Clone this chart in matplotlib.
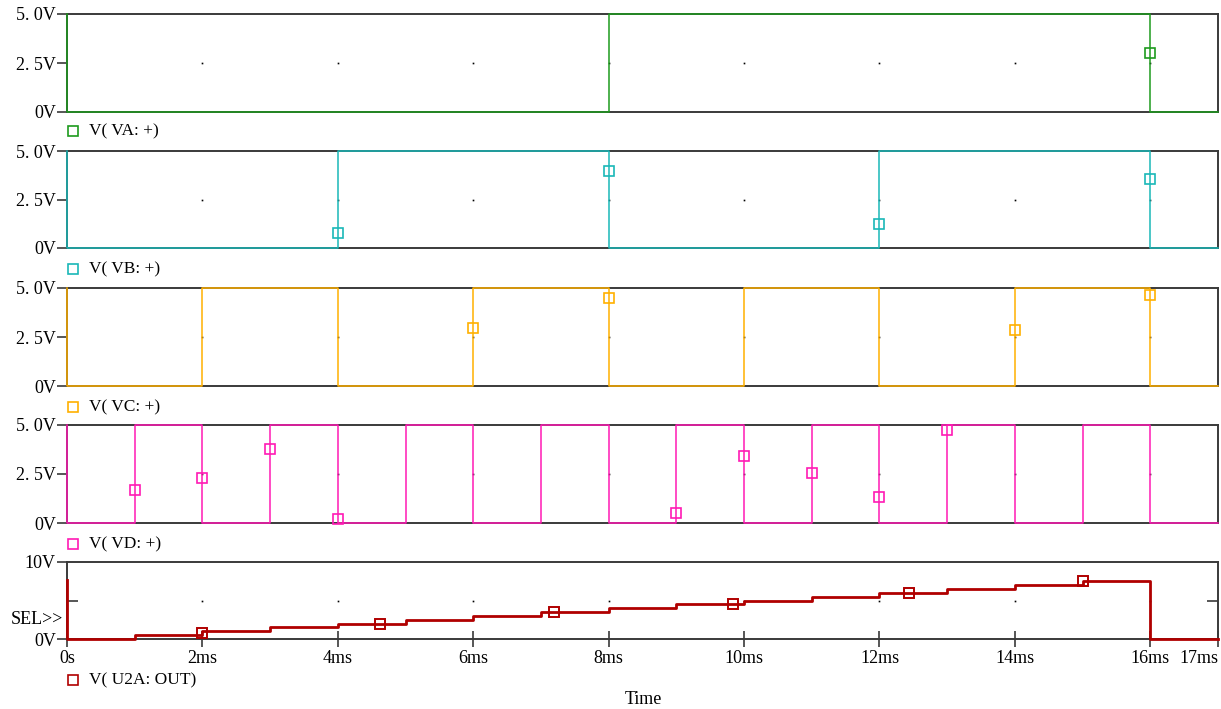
import matplotlib
matplotlib.use("Agg")
import matplotlib.pyplot as plt
from matplotlib.lines import Line2D

plt.rcParams['font.family'] = ['Liberation Serif', 'DejaVu Serif']

# time edges in ms (one counter step per ms)
t_ms = [0, 1, 2, 3, 4, 5, 6, 7, 8, 9, 10, 11, 12, 13, 14, 15, 16, 17]

# levels held over each 1 ms interval
va = [0, 0, 0, 0, 0, 0, 0, 0, 5, 5, 5, 5, 5, 5, 5, 5, 0]
vb = [0, 0, 0, 0, 5, 5, 5, 5, 0, 0, 0, 0, 5, 5, 5, 5, 0]
vc = [0, 0, 5, 5, 0, 0, 5, 5, 0, 0, 5, 5, 0, 0, 5, 5, 0]
vd = [0, 5, 0, 5, 0, 5, 0, 5, 0, 5, 0, 5, 0, 5, 0, 5, 0]
vout = [0, 0.5, 1.0, 1.5, 2.0, 2.5, 3.0, 3.5, 4.0, 4.5, 5.0, 5.5, 6.0, 6.5, 7.0, 7.5, 0]
start_spike = [5, 5, 5, 5, 7.6]

# trace marker positions (ms, V)
va_mk_t = [16]
va_mk_v = [3.0]
vb_mk_t = [4, 8, 12, 16]
vb_mk_v = [0.77, 3.97, 1.24, 3.56]
vc_mk_t = [6, 8, 14, 16]
vc_mk_v = [2.96, 4.49, 2.86, 4.64]
vd_mk_t = [1, 2, 3, 4, 9, 10, 11, 12, 13]
vd_mk_v = [1.68, 2.30, 3.78, 0.2, 0.51, 3.42, 2.55, 1.33, 4.74]
out_mk_t = [2, 4.62, 7.2, 9.84, 12.43, 15.0]
out_mk_v = [0.75, 2.0, 3.5, 4.5, 6.0, 7.5]

names = ["V( VA: +)", "V( VB: +)", "V( VC: +)", "V( VD: +)", "V( U2A: OUT)"]
colors = ["#1e9b1e", "#1ab8b8", "#ffb000", "#ff1ab4", "#b00000"]

W, H = 1221, 709
fig = plt.figure(figsize=(W / 100, H / 100), dpi=100)

# panel pixel extents (top, bottom) and legend row y
panels = [(14, 112, 131), (151, 248, 269), (288, 386, 407), (425, 523, 544), (562, 639, 680)]
x0, x1 = 67, 1218

series = [va, vb, vc, vd, vout]
mk_t = [va_mk_t, vb_mk_t, vc_mk_t, vd_mk_t, out_mk_t]
mk_v = [va_mk_v, vb_mk_v, vc_mk_v, vd_mk_v, out_mk_v]
edge = "#3a3a3a"

for i, (top, bot, ly) in enumerate(panels):
    ax = fig.add_axes([x0 / W, 1 - bot / H, (x1 - x0) / W, (bot - top) / H])
    last = i == 4
    ymax = 10 if last else 5
    ax.set_xlim(0, 17)
    ax.set_ylim(0, ymax)
    for s in ax.spines.values():
        s.set_color(edge)
        s.set_linewidth(1.4)

    # digital step trace with initial spike at t = 0
    xs = [0] + t_ms
    ys = [start_spike[i]] + series[i] + [series[i][-1]]
    lw = 2.0 if last else 1.1
    ax.plot(xs, ys, drawstyle="steps-post", color=colors[i], lw=lw,
            clip_on=False, zorder=3)
    ax.plot(mk_t[i], mk_v[i], linestyle="none", marker="s", ms=6.5,
            mfc="none", mec=colors[i], mew=1.4 if last else 1.2,
            clip_on=False, zorder=4)

    # grid dots
    mid = ymax / 2
    gx = [2, 4, 6, 8, 10, 12, 14, 16]
    ax.plot(gx, [mid] * len(gx), linestyle="none", marker="s", ms=1.2,
            color="k", mew=0, zorder=2)

    if last:
        ax.set_yticks([0, 10])
        ax.set_yticklabels(["0V", "10V"])
        ax.set_yticks([5], minor=True)
        ax.tick_params(axis="y", which="minor", direction="in", length=8,
                       width=1.2, color=edge, left=True, right=True)
        ax.set_xticks([0, 2, 4, 6, 8, 10, 12, 14, 16, 17])
        ax.set_xticklabels(["0s", "2ms", "4ms", "6ms", "8ms", "10ms",
                            "12ms", "14ms", "16ms", "17ms"])
        ax.tick_params(axis="x", direction="inout", length=12, width=1.2,
                       color=edge, labelsize=13, pad=2)
        ax.get_xticklabels()[-1].set_horizontalalignment("right")
        fig.text(643 / W, 1 - 699 / H, "Time", ha="center", va="center",
                 fontsize=13)
        fig.text(63 / W, 1 - 620 / H, "SEL>>", ha="right", va="center",
                 fontsize=13)
    else:
        ax.set_yticks([0, 2.5, 5])
        ax.set_yticklabels(["0V", "2. 5V", "5. 0V"])
        ax.tick_params(axis="x", bottom=False, labelbottom=False)
    ax.tick_params(axis="y", which="major", direction="out", length=7,
                   width=1.2, color=edge, labelsize=13, pad=1)

    # legend entry below the panel
    fig.add_artist(Line2D([73 / W], [1 - ly / H], marker="s", ms=6.5,
                          mfc="none", mec=colors[i], mew=1.2,
                          linestyle="none", transform=fig.transFigure))
    fig.text(89 / W, 1 - ly / H, names[i], ha="left", va="center",
             fontsize=12.5)

fig.savefig("out.png", dpi=100)
